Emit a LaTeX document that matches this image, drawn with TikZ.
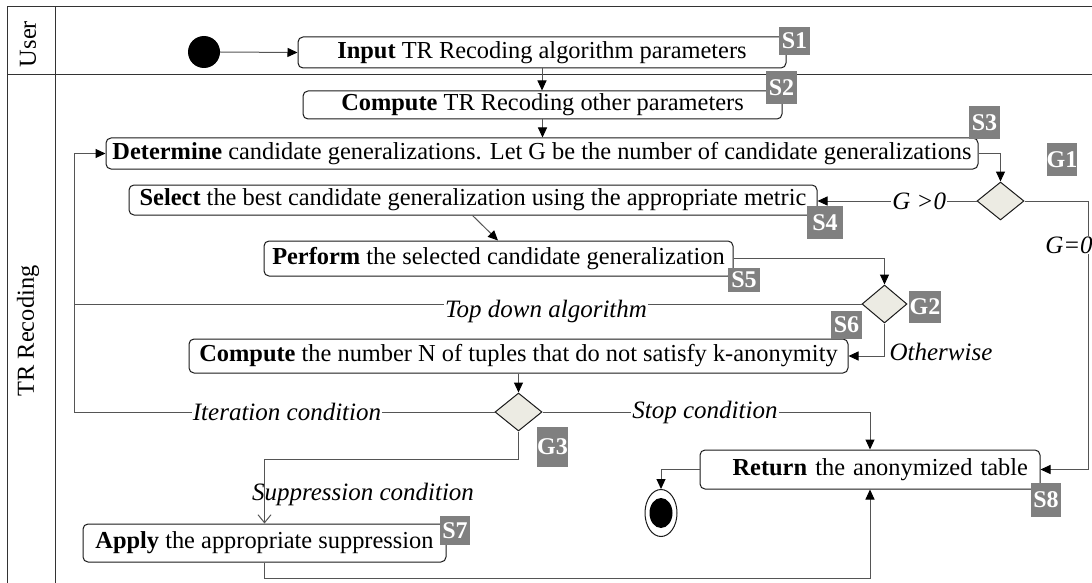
\documentclass[tikz,border=0pt]{standalone}
\usepackage{fontspec}
\setmainfont{Liberation Serif}
\usetikzlibrary{arrows.meta,shapes.geometric,calc}
\definecolor{bordc}{HTML}{1A1A1A}
\definecolor{connc}{HTML}{555555}
\definecolor{framec}{HTML}{333333}
\definecolor{tagc}{HTML}{808080}
\definecolor{decc}{HTML}{ECEBE3}
\begin{document}
\begin{tikzpicture}[x=1pt,y=-1pt,
  font=\fontsize{24.4}{28}\selectfont,
  act/.style={draw=bordc, line width=1pt, rounded corners=5pt, inner sep=0pt, fill=white},
  tag/.style={fill=tagc, text=white, font=\fontsize{24}{26}\selectfont\bfseries, inner sep=0pt},
  dec/.style={shape=diamond, draw=bordc, fill=decc, line width=1pt, inner sep=0pt},
  conn/.style={draw=connc, line width=1pt},
  arr/.style={conn, -{Triangle[length=10pt,width=9pt,color=black]}},
  oarr/.style={conn, -{Straight Barb[length=8pt,width=13pt]}},
  lbl/.style={font=\fontsize{25}{28}\selectfont\itshape, fill=white, inner sep=1pt},
  itl/.style={font=\fontsize{25}{28}\selectfont\itshape, inner sep=1pt},
]
\useasboundingbox (0,0) rectangle (1092,583);
% pool frame
\draw[framec, line width=1pt] (1092,7) -- (7,7) -- (7,583);
\draw[framec, line width=1pt] (55,7) -- (55,583);
\draw[framec, line width=1pt] (7,75) -- (1092,75);
\node[rotate=90] (laneU) at (28,44) {User};
\node[rotate=90] (laneT) at (28,331) {TR Recoding};

% nodes
\node[fill=black, circle, minimum size=32pt, inner sep=0pt] (start) at (204,52) {};
\node[act, minimum width=488pt, minimum height=31pt] (s1) at (542,52.5) {\textbf{Input} TR Recoding algorithm parameters};
\node[act, minimum width=479pt, minimum height=28pt] (s2) at (542.5,105) {\textbf{Compute} TR Recoding other parameters};
\node[act, minimum width=872pt, minimum height=31pt] (s3) at (542,153.5) {\textbf{Determine} candidate generalizations. Let G be the number of candidate generalizations};
\node[dec, minimum width=47pt, minimum height=38pt] (g1) at (1000.5,201) {};
\node[act, minimum width=688pt, minimum height=30pt] (s4) at (473,200) {\textbf{Select} the best candidate generalization using the appropriate metric};
\node[act, minimum width=469pt, minimum height=35pt] (s5) at (498.5,258.5) {\textbf{Perform} the selected candidate generalization};
\node[dec, minimum width=45pt, minimum height=38pt] (g2) at (884.5,304) {};
\node[act, minimum width=659pt, minimum height=34pt] (s6) at (518.5,356) {\textbf{Compute} the number N of tuples that do not satisfy k-anonymity};
\node[dec, minimum width=47pt, minimum height=38pt] (g3) at (518.5,412) {};
\node[act, minimum width=363pt, minimum height=38pt] (s7) at (264.5,543) {\textbf{Apply} the appropriate suppression};
\node[act, minimum height=39pt, inner xsep=12pt, text width=316pt, align=right] (ret) at (870,469.5) {\textbf{Return} the anonymized table};
\node[draw=bordc, line width=1pt, ellipse, minimum width=32pt, minimum height=47pt, inner sep=0pt] (end) at (661,513) {};
\node[fill=black, ellipse, minimum width=23pt, minimum height=30pt, inner sep=0pt] (endin) at (end.center) {};

% connectors
\draw[arr] (start.east) -- (s1.west);
\draw[arr] (s1.south) -- (s1.south |- s2.north);
\draw[arr] (s2.south) -- (s2.south |- s3.north);
\draw[arr] (s3.east) -| (g1.north);
\draw[arr] (g1.west) -- (g1.west -| s4.east) node[lbl, pos=0.36] (lgp) {G >0};
\coordinate (g0c) at (1088,201);
\draw[arr] (g1.east) -- (g0c) -- (g0c |- ret.east) -- (ret.east);
\node[lbl] (lg0) at (1069,245) {G=0};
\draw[arr] ([xshift=344pt]s4.south west) -- ([xshift=234.5pt]s5.north west);
\draw[arr] (s5.east) -| (g2.north);
\coordinate (lpA) at (74,304);
\draw[arr] (g2.west) -- (lpA) |- (s3.west);
\node[lbl] (ltd) at (546,311) {Top down algorithm};
\draw[arr] (g2.south) |- (s6.east);
\node[itl] (low) at (941,352) {Otherwise};
\draw[arr] (s6.south) -- (s6.south |- g3.north);
\coordinate (lpB) at (74,412);
\draw[conn] (g3.west) -- (lpB) -- (lpA);
\node[lbl] (lit) at (287,412) {Iteration condition};
\draw[arr] (g3.east) -| (ret.north);
\node[lbl] (lst) at (705,412) {Stop condition};
\coordinate (sc) at (264.5,459);
\draw[oarr] (g3.south) |- (sc) -- (s7.north);
\node[itl] (lsu) at (363,494) {Suppression condition};
\coordinate (bt) at (264.5,578);
\draw[arr] (s7.south) -- (bt) -| (ret.south);
\draw[arr] (ret.west) -| (end.north);

% tags
\node[tag, minimum width=31pt, minimum height=28pt] (t1) at (794.5,41) {S1};
\node[tag, minimum width=31pt, minimum height=33pt] (t2) at (781.5,87.5) {S2};
\node[tag, minimum width=31pt, minimum height=33pt] (t3) at (984.5,122.5) {S3};
\node[tag, minimum width=30pt, minimum height=33pt] (tg1) at (1062,159.5) {G1};
\node[tag, minimum width=36pt, minimum height=33pt] (t4) at (825,222.5) {S4};
\node[tag, minimum width=32pt, minimum height=24pt] (t5) at (744,280) {S5};
\node[tag, minimum width=32pt, minimum height=32pt] (tg2) at (925,307) {G2};
\node[tag, minimum width=31pt, minimum height=28pt] (t6) at (846.5,325) {S6};
\node[tag, minimum width=31pt, minimum height=40pt] (tg3) at (552.5,446.5) {G3};
\node[tag, minimum width=30pt, minimum height=29pt] (t7) at (455,530.5) {S7};
\node[tag, minimum width=30pt, minimum height=34pt] (t8) at (1046,500) {S8};
\end{tikzpicture}
\end{document}
